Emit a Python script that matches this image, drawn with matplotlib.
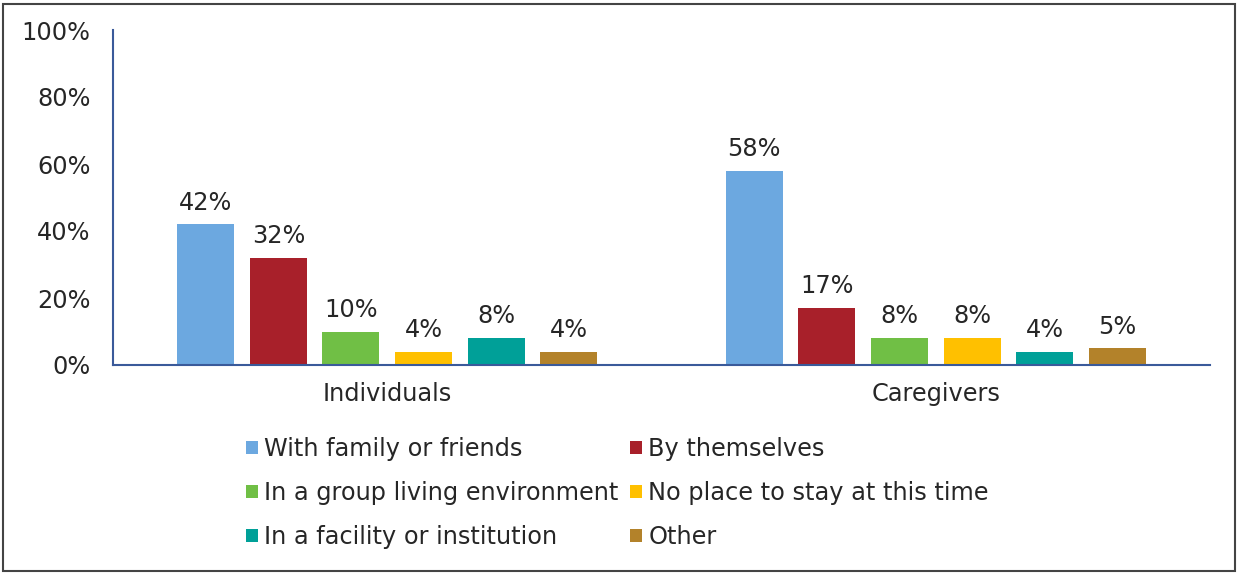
import matplotlib
matplotlib.use("Agg")
import matplotlib.pyplot as plt
from matplotlib.patches import Rectangle
import numpy as np

groups = ["Individuals", "Caregivers"]
series_names = ["With family or friends", "By themselves", "In a group living environment",
                "No place to stay at this time", "In a facility or institution", "Other"]
individuals = [42, 32, 10, 4, 8, 4]
caregivers = [58, 17, 8, 8, 4, 5]
colors = ["#6CA8E0", "#A8202A", "#70BF45", "#FFC000", "#00A098", "#B3822A"]
yticks = [0, 20, 40, 60, 80, 100]

plt.rcParams['font.family'] = ['DejaVu Sans']
fig = plt.figure(figsize=(12.39, 5.73), dpi=100)
ax = fig.add_axes([113/1239, 1-365/573, (1210-113)/1239, 335/573])

x = np.arange(len(groups))
pitch = 0.1324
width = 0.104
values = np.array([individuals, caregivers])
txtcol = "#262626"
fs = 17.3
handles = []
for i, name in enumerate(series_names):
    pos = x + (i - 2.5) * pitch
    bars = ax.bar(pos, values[:, i], width, color=colors[i], label=name, zorder=2)
    handles.append(bars)
    for b, v in zip(bars, values[:, i]):
        ax.annotate(f"{v}%", (b.get_x() + b.get_width()/2, v), xytext=(0, 7),
                    textcoords="offset points", ha="center", va="bottom",
                    fontsize=fs, color=txtcol)

ax.set_xlim(-0.5, 1.5)
ax.set_ylim(0, 100)
ax.set_yticks(yticks)
ax.set_yticklabels([f"{t}%" for t in yticks], fontsize=fs, color=txtcol)
ax.set_xticks(x)
ax.set_xticklabels(groups, fontsize=fs, color=txtcol)
ax.tick_params(axis='both', length=0)
ax.tick_params(axis='y', pad=16)
ax.tick_params(axis='x', pad=12)
for s in ["top", "right"]:
    ax.spines[s].set_visible(False)
for s in ["left", "bottom"]:
    ax.spines[s].set_color("#3A5A9A")
    ax.spines[s].set_linewidth(1.5)

order = [0, 2, 4, 1, 3, 5]
leg = fig.legend([handles[k] for k in order], [series_names[k] for k in order],
                 loc="upper left", bbox_to_anchor=(246/1239, 1-437/573), ncol=2,
                 frameon=False, fontsize=fs, handlelength=0.5, handleheight=0.5,
                 handletextpad=0.25, columnspacing=0.5, labelspacing=0.83,
                 labelcolor=txtcol, borderpad=0, borderaxespad=0)

fig.patches.append(Rectangle((3/1239, 2/573), 1232/1239, 567/573, transform=fig.transFigure,
                             fill=False, edgecolor="#444444", linewidth=1.5))
fig.savefig("out.png", dpi=100)
